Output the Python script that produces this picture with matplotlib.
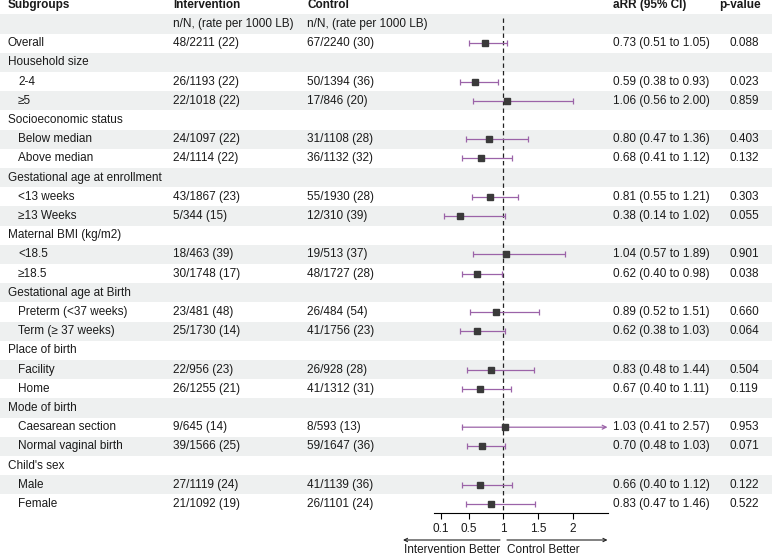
import matplotlib
matplotlib.use("Agg")
import matplotlib.pyplot as plt
import numpy as np

plt.rcParams['font.family'] = ['Liberation Sans', 'DejaVu Sans']

# table rows (after header and n/N row); headings have no numbers
subgroups = ["Overall", "Household size", "2-4", "\u22655",
             "Socioeconomic status", "Below median", "Above median",
             "Gestational age at enrollment", "<13 weeks", "\u226513 Weeks",
             "Maternal BMI (kg/m2)", "<18.5", "\u226518.5",
             "Gestational age at Birth", "Preterm (<37 weeks)", "Term (\u2265 37 weeks)",
             "Place of birth", "Facility", "Home",
             "Mode of birth", "Caesarean section", "Normal vaginal birth",
             "Child's sex", "Male", "Female"]
heading = [False, True, False, False, True, False, False, True, False, False,
           True, False, False, True, False, False, True, False, False,
           True, False, False, True, False, False]
intervention = ["48/2211 (22)", "", "26/1193 (22)", "22/1018 (22)",
                "", "24/1097 (22)", "24/1114 (22)",
                "", "43/1867 (23)", "5/344 (15)",
                "", "18/463 (39)", "30/1748 (17)",
                "", "23/481 (48)", "25/1730 (14)",
                "", "22/956 (23)", "26/1255 (21)",
                "", "9/645 (14)", "39/1566 (25)",
                "", "27/1119 (24)", "21/1092 (19)"]
control = ["67/2240 (30)", "", "50/1394 (36)", "17/846 (20)",
           "", "31/1108 (28)", "36/1132 (32)",
           "", "55/1930 (28)", "12/310 (39)",
           "", "19/513 (37)", "48/1727 (28)",
           "", "26/484 (54)", "41/1756 (23)",
           "", "26/928 (28)", "41/1312 (31)",
           "", "8/593 (13)", "59/1647 (36)",
           "", "41/1139 (36)", "26/1101 (24)"]
arr = [0.73, np.nan, 0.59, 1.06, np.nan, 0.80, 0.68, np.nan, 0.81, 0.38,
       np.nan, 1.04, 0.62, np.nan, 0.89, 0.62, np.nan, 0.83, 0.67,
       np.nan, 1.03, 0.70, np.nan, 0.66, 0.83]
lo = [0.51, np.nan, 0.38, 0.56, np.nan, 0.47, 0.41, np.nan, 0.55, 0.14,
      np.nan, 0.57, 0.40, np.nan, 0.52, 0.38, np.nan, 0.48, 0.40,
      np.nan, 0.41, 0.48, np.nan, 0.40, 0.47]
hi = [1.05, np.nan, 0.93, 2.00, np.nan, 1.36, 1.12, np.nan, 1.21, 1.02,
      np.nan, 1.89, 0.98, np.nan, 1.51, 1.03, np.nan, 1.44, 1.11,
      np.nan, 2.57, 1.03, np.nan, 1.12, 1.46]
pvals = ["0.088", "", "0.023", "0.859", "", "0.403", "0.132", "", "0.303", "0.055",
         "", "0.901", "0.038", "", "0.660", "0.064", "", "0.504", "0.119",
         "", "0.953", "0.071", "", "0.122", "0.522"]
xticks = [0.1, 0.5, 1, 1.5, 2]
xticklabels = ["0.1", "0.5", "1", "1.5", "2"]

W, H = 772, 556
Y0, DY = 4.8, 19.2       # pixel centre of row 0 and row pitch
AXIS_Y = 513             # pixel row of the forest x axis
X_LEFT, X_RIGHT = 433.8, 607.5
XMAX = 2.5
FS = 8.5
TXT = '#1a1a1a'
STRIPE = '#eef0f0'
CI_COL = '#9b63a8'


def row_y(i):
    return Y0 + DY * i


def main():
    fig = plt.figure(figsize=(W / 100, H / 100), dpi=100)
    bg = fig.add_axes([0, 0, 1, 1])
    bg.set_xlim(0, W)
    bg.set_ylim(H, 0)
    bg.axis('off')

    nrows = len(subgroups) + 2
    for i in range(nrows):
        if i % 2 == 1:
            bg.axhspan(row_y(i) - DY / 2, row_y(i) + DY / 2, color=STRIPE, lw=0, zorder=0)

    # header
    for x, s in [(8, "Subgroups"), (173, "Intervention"), (307, "Control"),
                 (612.7, "aRR (95% CI)"), (719, "p-value")]:
        bg.text(x, row_y(0), s, fontsize=FS, fontweight='bold', color=TXT,
                va='center', ha='left')
    for x in (173, 307):
        bg.text(x, row_y(1), "n/N, (rate per 1000 LB)", fontsize=FS, color=TXT,
                va='center', ha='left')

    for k, name in enumerate(subgroups):
        i = k + 2
        y = row_y(i)
        indent = 8 if (heading[k] or name == "Overall") else 18
        bg.text(indent, y, name, fontsize=FS, color=TXT, va='center', ha='left')
        if heading[k]:
            continue
        bg.text(173, y, intervention[k], fontsize=FS, color=TXT, va='center')
        bg.text(307, y, control[k], fontsize=FS, color=TXT, va='center')
        bg.text(612.7, y, "%.2f (%.2f to %.2f)" % (arr[k], lo[k], hi[k]),
                fontsize=FS, color=TXT, va='center')
        bg.text(729.5, y, pvals[k], fontsize=FS, color=TXT, va='center')

    # forest panel
    ax = fig.add_axes([X_LEFT / W, (H - AXIS_Y) / H, (X_RIGHT - X_LEFT) / W, AXIS_Y / H])
    ax.patch.set_alpha(0)
    ax.set_xlim(0, XMAX)
    ax.set_ylim(AXIS_Y, 0)
    for s in ('top', 'left', 'right'):
        ax.spines[s].set_visible(False)
    ax.spines['bottom'].set_linewidth(0.8)
    ax.set_yticks([])
    ax.set_xticks(xticks)
    ax.set_xticklabels(xticklabels, fontsize=FS, color=TXT)
    ax.tick_params(axis='x', direction='out', length=4, width=0.8, pad=3)

    ax.plot([1, 1], [row_y(0.7), AXIS_Y], color='#222222', lw=0.9,
            dashes=(3.5, 2.5), zorder=1)

    for k in range(len(subgroups)):
        if heading[k]:
            continue
        y = row_y(k + 2)
        if hi[k] > XMAX:
            ax.annotate("", xy=(XMAX, y), xytext=(lo[k], y),
                        arrowprops=dict(arrowstyle='->', color=CI_COL, lw=0.9,
                                        shrinkA=0, shrinkB=0, mutation_scale=7))
            ax.plot([lo[k]], [y], marker='|', ms=4.5, mew=0.9, color=CI_COL)
        else:
            ax.errorbar([arr[k]], [y], xerr=[[arr[k] - lo[k]], [hi[k] - arr[k]]],
                        fmt='none', ecolor=CI_COL, elinewidth=0.9,
                        capsize=2.3, capthick=0.9, zorder=2)
        ax.plot([arr[k]], [y], marker='s', ms=4, color='#3a3a3a', zorder=3)

    # direction arrows
    tr = ax.get_xaxis_transform()
    ya = -(540 - AXIS_Y) / AXIS_Y
    yt = -(550 - AXIS_Y) / AXIS_Y
    xl = (500 - X_LEFT) / (X_RIGHT - X_LEFT) * XMAX
    xr = (507 - X_LEFT) / (X_RIGHT - X_LEFT) * XMAX
    xa = (403 - X_LEFT) / (X_RIGHT - X_LEFT) * XMAX
    for x0, x1 in [(xl, xa), (xr, XMAX)]:
        ax.annotate("", xy=(x1, ya), xytext=(x0, ya), xycoords=tr, textcoords=tr,
                    annotation_clip=False,
                    arrowprops=dict(arrowstyle='->', color='#222222', lw=0.8,
                                    shrinkA=0, shrinkB=0, mutation_scale=6))
    ax.text(xl, yt, "Intervention Better", transform=tr, fontsize=FS, color=TXT,
            ha='right', va='center')
    ax.text(xr, yt, "Control Better", transform=tr, fontsize=FS, color=TXT,
            ha='left', va='center')

    fig.savefig("out.png", dpi=100)


if __name__ == '__main__':
    main()
